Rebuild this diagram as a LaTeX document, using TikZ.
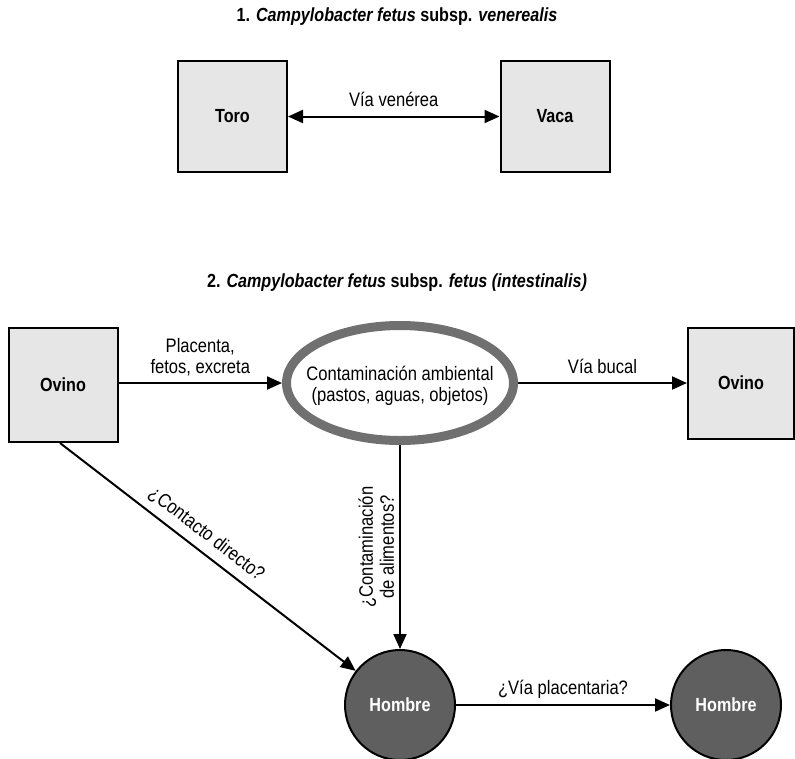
\documentclass[tikz,border=0pt]{standalone}
\usepackage{fontspec}
\setmainfont[FakeStretch=0.85]{Liberation Sans}
\usetikzlibrary{shapes.geometric,arrows.meta}
\definecolor{boxfill}{HTML}{E6E6E6}
\definecolor{ringgray}{HTML}{707070}
\definecolor{mandark}{HTML}{5F5F5F}
\begin{document}
\begin{tikzpicture}[x=1pt,y=-1pt,
  every node/.style={font=\fontsize{19.5}{21}\selectfont},
  animal/.style={draw=black,line width=2pt,fill=boxfill,minimum width=109pt,minimum height=111pt,inner sep=0pt,font=\fontsize{19}{21}\selectfont\bfseries},
  human/.style={circle,draw=black,line width=2pt,fill=mandark,minimum size=110pt,inner sep=0pt,text=white,font=\fontsize{19}{21}\selectfont\bfseries},
  env/.style={ellipse,draw=ringgray,line width=9pt,minimum width=227pt,minimum height=115pt,inner sep=0pt},
  conn/.style={line width=2pt,-{Triangle[length=15pt,width=13pt]}},
  biconn/.style={line width=2pt,{Triangle[length=15pt,width=13pt]}-{Triangle[length=15pt,width=13pt]}},
  title/.style={font=\fontsize{19}{21}\selectfont\bfseries}
]
\useasboundingbox (0,0) rectangle (795,758);

\node[title] (t1) at (397,17) {1. \textit{Campylobacter fetus} subsp. \textit{venerealis}};
\node[animal] (toro) at (232.5,116.5) {Toro};
\node[animal] (vaca) at (555,116.5) {Vaca};
\draw[biconn] (toro) -- node[above=5pt] (lv) {Vía venérea} (vaca);

\node[title] (t2) at (397,283) {2. \textit{Campylobacter fetus} subsp. \textit{fetus (intestinalis)}};
\node[animal,minimum height=114pt] (ov1) at (63,385) {Ovino};
\node[env] (env) at (400,383) {};
\node[align=center] (envt) at (400,386) {Contaminación ambiental\\(pastos, aguas, objetos)};
\node[animal,minimum width=106pt,minimum height=111pt] (ov2) at (741,383) {Ovino};
\node[human] (h1) at (400,705) {Hombre};
\node[human] (h2) at (726,705) {Hombre};

\draw[conn] (ov1.east |- env) -- node[above=3pt,align=center] (lp) {Placenta,\\fetos, excreta} (env.west);
\draw[conn] (env.east) -- node[above=5pt] (lb) {Vía bucal} (ov2.west |- env);
\draw[conn] (env.south) -- node[midway,rotate=90,anchor=south,align=center,inner sep=5pt] (la) {¿Contaminación\\de alimentos?} (h1.north);
\coordinate (ovs) at ([xshift=-3pt]ov1.south);
\draw[conn] (ovs) -- node[pos=0.46,sloped,above=4pt] (lc) {¿Contacto directo?} (h1);
\draw[conn] (h1.east) -- node[above=2pt] (lpl) {¿Vía placentaria?} (h2.west);
\end{tikzpicture}
\end{document}
